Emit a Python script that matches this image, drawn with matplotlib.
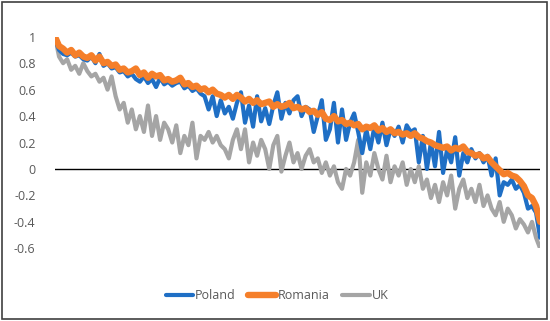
import matplotlib
matplotlib.use("Agg")
import matplotlib.pyplot as plt
from matplotlib.patches import Rectangle

series_names = ["Poland", "Romania", "UK"]

romania = [1.00, 0.93, 0.91, 0.88, 0.90, 0.86, 0.88, 0.85, 0.84, 0.86,
           0.82, 0.85, 0.80, 0.81, 0.78, 0.79, 0.75, 0.76, 0.73, 0.74,
           0.76, 0.71, 0.73, 0.69, 0.72, 0.70, 0.71, 0.67, 0.68, 0.66,
           0.67, 0.69, 0.64, 0.65, 0.62, 0.63, 0.60, 0.61, 0.58, 0.60,
           0.57, 0.56, 0.54, 0.56, 0.53, 0.56, 0.54, 0.51, 0.53, 0.50,
           0.52, 0.49, 0.50, 0.51, 0.47, 0.49, 0.47, 0.48, 0.50, 0.46,
           0.47, 0.45, 0.46, 0.43, 0.44, 0.41, 0.43, 0.38, 0.37, 0.40,
           0.36, 0.37, 0.34, 0.35, 0.33, 0.34, 0.30, 0.32, 0.31, 0.33,
           0.29, 0.31, 0.28, 0.30, 0.27, 0.28, 0.26, 0.27, 0.25, 0.27,
           0.24, 0.23, 0.21, 0.20, 0.18, 0.17, 0.16, 0.17, 0.14, 0.16,
           0.15, 0.17, 0.13, 0.12, 0.10, 0.11, 0.08, 0.09, 0.05, 0.02,
           -0.01, -0.04, -0.03, -0.05, -0.06, -0.09, -0.13, -0.20, -0.22, -0.28,
           -0.40]

poland = [0.98, 0.90, 0.87, 0.86, 0.88, 0.85, 0.86, 0.83, 0.82, 0.85,
          0.80, 0.87, 0.78, 0.80, 0.76, 0.77, 0.73, 0.74, 0.70, 0.72,
          0.68, 0.66, 0.70, 0.65, 0.68, 0.62, 0.69, 0.64, 0.66, 0.63,
          0.65, 0.66, 0.61, 0.63, 0.59, 0.61, 0.57, 0.55, 0.45, 0.55,
          0.40, 0.52, 0.42, 0.47, 0.38, 0.50, 0.58, 0.35, 0.48, 0.32,
          0.55, 0.36, 0.46, 0.34, 0.48, 0.58, 0.38, 0.50, 0.42, 0.52,
          0.55, 0.40, 0.47, 0.45, 0.28, 0.40, 0.52, 0.22, 0.30, 0.50,
          0.20, 0.45, 0.22, 0.35, 0.42, 0.28, 0.12, 0.30, 0.15, 0.32,
          0.20, 0.35, 0.18, 0.30, 0.25, 0.32, 0.20, 0.33, 0.28, 0.30,
          0.05, 0.25, 0.00, 0.20, 0.02, 0.28, -0.03, 0.15, 0.05, 0.24,
          -0.05, 0.12, 0.05, 0.15, 0.08, 0.12, 0.05, 0.10, -0.05, 0.08,
          -0.20, -0.10, -0.12, -0.08, -0.15, -0.12, -0.18, -0.30, -0.28, -0.33,
          -0.52]

uk = [1.00, 0.85, 0.80, 0.83, 0.75, 0.78, 0.72, 0.80, 0.74, 0.70,
      0.72, 0.66, 0.69, 0.60, 0.70, 0.55, 0.45, 0.50, 0.35, 0.45,
      0.30, 0.40, 0.28, 0.48, 0.25, 0.40, 0.22, 0.35, 0.30, 0.20,
      0.33, 0.12, 0.25, 0.18, 0.35, 0.08, 0.25, 0.22, 0.28, 0.20,
      0.25, 0.18, 0.15, 0.08, 0.22, 0.30, 0.15, 0.30, 0.05, 0.20,
      0.10, 0.22, 0.15, 0.00, 0.18, 0.25, -0.02, 0.10, 0.20, 0.05,
      0.12, 0.00, 0.10, 0.15, 0.05, 0.08, -0.03, 0.05, -0.05, 0.02,
      -0.10, -0.15, 0.00, -0.05, 0.05, 0.22, -0.18, 0.05, -0.05, 0.12,
      0.00, -0.08, 0.10, -0.10, 0.02, -0.05, 0.05, -0.12, 0.00, -0.10,
      0.02, -0.15, -0.08, -0.22, -0.12, -0.25, -0.10, -0.20, -0.05, -0.30,
      -0.15, -0.08, -0.22, -0.15, -0.25, -0.12, -0.28, -0.20, -0.30, -0.35,
      -0.25, -0.40, -0.30, -0.35, -0.45, -0.38, -0.42, -0.48, -0.40, -0.52,
      -0.60]

y_ticks = [-0.6, -0.4, -0.2, 0, 0.2, 0.4, 0.6, 0.8, 1]
y_tick_labels = ["-0.6", "-0.4", "-0.2", "0", "0.2", "0.4", "0.6", "0.8", "1"]

colors = {"Poland": "#1f6fc5", "Romania": "#f57f2a", "UK": "#a5a5a5"}
widths = {"Poland": 3.0, "Romania": 4.6, "UK": 3.0}

plt.rcParams['font.family'] = ['Open Sans', 'DejaVu Sans']

fig = plt.figure(figsize=(5.5, 3.21), dpi=100)
ax = fig.add_axes([0.1, 0.2265, 0.882, 0.659])

xs = list(range(len(romania)))
data = {"Poland": poland, "Romania": romania, "UK": uk}
handles = {}
for name in ["UK", "Poland", "Romania"]:
    (h,) = ax.plot(xs, data[name], color=colors[name], lw=widths[name],
                   solid_joinstyle="round", solid_capstyle="round", label=name)
    handles[name] = h

ax.axhline(0, color="black", lw=1.0, zorder=0)
ax.set_xlim(0, len(romania) - 1)
ax.set_ylim(-0.6, 1.0)
ax.set_yticks(y_ticks)
ax.set_yticklabels(y_tick_labels)
ax.set_xticks([])
for s in ax.spines.values():
    s.set_visible(False)
ax.tick_params(axis="y", length=0, labelsize=9, labelcolor="#595959", pad=14)

leg = fig.legend([handles[n] for n in series_names], series_names,
                 loc="center", bbox_to_anchor=(277 / 550, 1 - 295.5 / 321),
                 ncol=3, frameon=False, fontsize=9, handlelength=2.2,
                 columnspacing=1.0, handletextpad=0.15)
for t in leg.get_texts():
    t.set_color("#595959")

fig.patches.append(Rectangle((0.004, 0.006), 0.991, 0.988, transform=fig.transFigure,
                             fill=False, edgecolor="#404040", lw=1.2))

fig.savefig("out.png", dpi=100)
